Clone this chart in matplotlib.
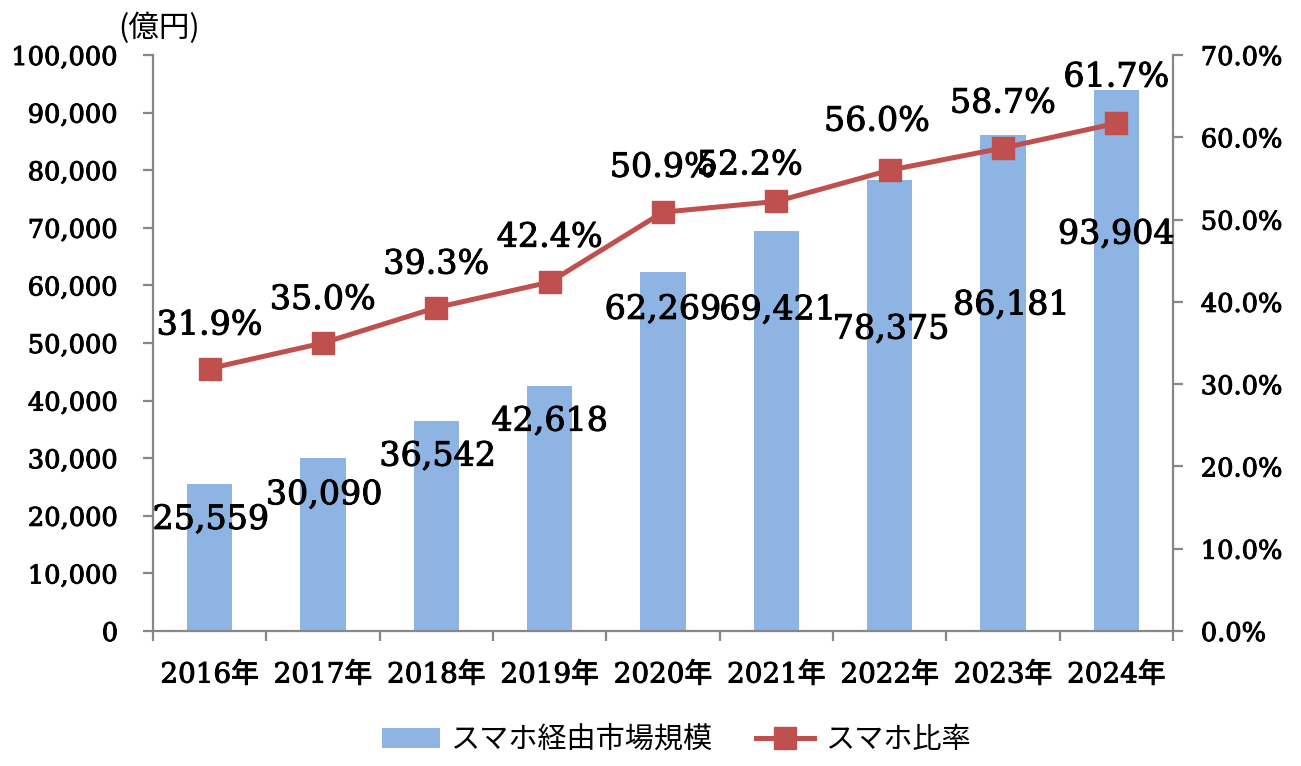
import matplotlib
matplotlib.use('Agg')
import matplotlib.pyplot as plt
from matplotlib.lines import Line2D
from matplotlib.patches import Patch
from matplotlib.ticker import FuncFormatter, MultipleLocator
import matplotlib.patheffects as pe
import numpy as np

# ---- data ----
years = ['2016年', '2017年', '2018年', '2019年', '2020年', '2021年', '2022年', '2023年', '2024年']
market = [25559, 30090, 36542, 42618, 62269, 69421, 78375, 86181, 93904]
ratio = [31.9, 35.0, 39.3, 42.4, 50.9, 52.2, 56.0, 58.7, 61.7]
market_name = 'スマホ経由市場規模'
ratio_name = 'スマホ比率'
unit_label = '(億円)'

# ---- label placement offsets (points) ----
bar_lbl_dx = [1, 1, 1, 0, 0, 1, 1, 6, 0]
bar_lbl_dy = [-26, -27, -26, -26, -27, -57, -108, -123, -104]
pct_lbl_dx = [0, 0, 0, 0, 0, -19, -9, 0, 0]
pct_lbl_dy = [31, 31, 31, 32, 32, 26, 35, 32, 33]

BAR_COLOR = '#8DB4E2'
LINE_COLOR = '#C0504D'
AXIS_COLOR = '#878787'
BOLDEN = [pe.withStroke(linewidth=0.7, foreground='black')]

plt.rcParams['font.family'] = ['DejaVu Serif', 'Noto Sans CJK JP']

fig = plt.figure(figsize=(13.01, 7.66), dpi=100)
ax = fig.add_axes([153/1301, 1-631/766, (1173-153)/1301, (631-55)/766])
ax2 = ax.twinx()

x = np.arange(len(years))
ax.bar(x, market, width=0.4, color=BAR_COLOR, zorder=2)
ax2.plot(x, ratio, color=LINE_COLOR, lw=3.6, marker='s', markersize=16,
         markerfacecolor=LINE_COLOR, markeredgecolor=LINE_COLOR, zorder=3)

ax.set_xlim(-0.5, len(years) - 0.5)
ax.set_ylim(0, 100000)
ax2.set_ylim(0, 70)
ax.yaxis.set_major_locator(MultipleLocator(10000))
ax2.yaxis.set_major_locator(MultipleLocator(10))
ax.yaxis.set_major_formatter(FuncFormatter(lambda v, p: f'{int(v):,}'))
ax2.yaxis.set_major_formatter(FuncFormatter(lambda v, p: f'{v:.1f}%'))

ax.set_xticks(x)
ax.set_xticklabels(years)
ax.set_xticks(np.arange(-0.5, len(years), 1.0), minor=True)
ax.tick_params(axis='x', which='major', length=0, pad=22, labelsize=20)
ax.tick_params(axis='x', which='minor', length=7, width=1.6, color=AXIS_COLOR, direction='out')
ax.tick_params(axis='y', length=7, width=1.6, color=AXIS_COLOR, pad=18, labelsize=18.5, direction='out')
ax2.tick_params(axis='y', length=7, width=1.6, color=AXIS_COLOR, pad=13, labelsize=18.5, direction='out')

for lbl in ax.get_xticklabels() + ax.get_yticklabels() + ax2.get_yticklabels():
    lbl.set_path_effects(BOLDEN)

for s in ['top', 'right']:
    ax.spines[s].set_visible(False)
for s in ['left', 'bottom']:
    ax.spines[s].set_color(AXIS_COLOR)
    ax.spines[s].set_linewidth(1.6)
for s in ['top', 'left', 'bottom']:
    ax2.spines[s].set_visible(False)
ax2.spines['right'].set_color(AXIS_COLOR)
ax2.spines['right'].set_linewidth(1.6)

# bar value labels
for i, v in enumerate(market):
    ax2.annotate(f'{v:,}', xy=(x[i], v), xycoords=ax.transData,
                 xytext=(bar_lbl_dx[i], bar_lbl_dy[i]), textcoords='offset points',
                 ha='center', va='center', fontsize=24, zorder=5, annotation_clip=False,
                 path_effects=BOLDEN)
# ratio labels
for i, r in enumerate(ratio):
    ax2.annotate(f'{r:.1f}%', xy=(x[i], r), xycoords='data',
                 xytext=(pct_lbl_dx[i], pct_lbl_dy[i]), textcoords='offset points',
                 ha='center', va='center', fontsize=24, zorder=5, annotation_clip=False,
                 path_effects=BOLDEN)

fig.text(118/1301, 1-28/766, unit_label, ha='left', va='center', fontsize=22,
         family=['Noto Sans CJK JP'])

handles = [Patch(facecolor=BAR_COLOR, edgecolor='none'),
           Line2D([], [], color=LINE_COLOR, lw=3.6, marker='s', markersize=16)]
fig.legend(handles, [market_name, ratio_name], loc='center', bbox_to_anchor=(676/1301, 1-740/766),
           ncol=2, frameon=False, prop={'family': ['Noto Sans CJK JP'], 'size': 21},
           handlelength=2.0, handletextpad=0.35, columnspacing=1.5, handleheight=0.7)

fig.savefig('out.png', dpi=100)
